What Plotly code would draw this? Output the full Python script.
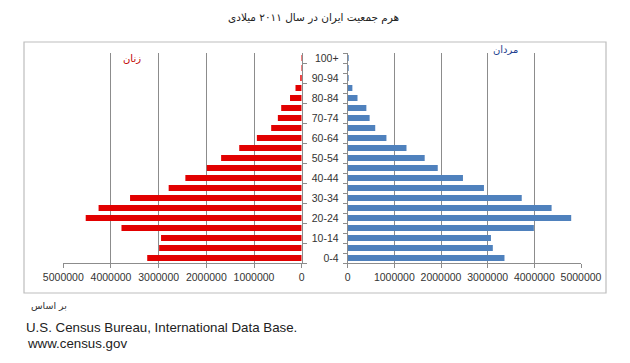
import plotly.graph_objects as go

PAGE_W, PAGE_H = 630, 363
OFF = 8  # default page body margin
W, H = PAGE_W - OFF, PAGE_H - OFF

age_groups = ["0-4", "5-9", "10-14", "15-19", "20-24", "25-29", "30-34", "35-39",
              "40-44", "45-49", "50-54", "55-59", "60-64", "65-69", "70-74",
              "75-79", "80-84", "85-89", "90-94", "95-99", "100+"]
tick_labels = [a if i % 2 == 0 else "" for i, a in enumerate(age_groups)]

women = [3240000, 2990000, 2950000, 3780000, 4530000, 4260000, 3600000, 2790000,
         2440000, 1990000, 1690000, 1310000, 940000, 640000, 500000,
         430000, 245000, 130000, 30000, 5000, 1000]
men = [3360000, 3110000, 3070000, 3990000, 4790000, 4370000, 3730000, 2920000,
       2470000, 1930000, 1650000, 1260000, 830000, 590000, 470000,
       400000, 210000, 100000, 12000, 2000, 500]

x_ticks = [0, 1000000, 2000000, 3000000, 4000000, 5000000]


def px(x):
    return (x - OFF) / W


def py(y):
    return 1 - (y - OFF) / H


fig = go.Figure()
fig.add_trace(go.Bar(y=age_groups, x=women, orientation="h", xaxis="x", yaxis="y",
                     marker=dict(color="#E20000", line=dict(width=0)), name="زنان"))
fig.add_trace(go.Bar(y=age_groups, x=men, orientation="h", xaxis="x2", yaxis="y2",
                     marker=dict(color="#4F81BD", line=dict(width=0)), name="مردان"))

axis_font = dict(family="Liberation Sans, Arial, sans-serif", size=10.5, color="#333")
ydom = [py(263), py(53)]

common_x = dict(showgrid=True, gridcolor="#8c8c8c", gridwidth=1, showline=True,
                linecolor="#8c8c8c", ticks="outside", ticklen=4, tickcolor="#8c8c8c",
                tickvals=x_ticks, ticktext=[str(v) for v in x_ticks], tickfont=axis_font,
                zeroline=False, fixedrange=True, automargin=False)

common_y = dict(domain=ydom, type="category", categoryorder="array", categoryarray=age_groups,
                range=[-0.5, 20.5], showline=True, linecolor="#8c8c8c",
                ticks="outside", ticklen=4, tickcolor="#8c8c8c", tickson="boundaries",
                showgrid=False, zeroline=False, fixedrange=True, automargin=False)

fig.update_layout(
    width=W, height=H,
    margin=dict(l=0, r=0, t=0, b=0, autoexpand=False),
    paper_bgcolor="white", plot_bgcolor="rgba(0,0,0,0)",
    showlegend=False,
    bargap=0.42,
    xaxis=dict(domain=[px(63.3), px(301.7)], range=[5000000, 0], anchor="y", **common_x),
    xaxis2=dict(domain=[px(347.7), px(581)], range=[0, 5000000], anchor="y2", **common_x),
    yaxis=dict(anchor="x", side="right", showticklabels=False, **common_y),
    yaxis2=dict(anchor="x2", side="left", tickmode="array", tickvals=age_groups,
                ticktext=tick_labels, tickfont=axis_font, ticklabelstandoff=6, **common_y),
)

fig.add_shape(type="rect", xref="paper", yref="paper",
              x0=px(24), x1=px(606), y0=py(293), y1=py(42),
              line=dict(color="#bdbdbd", width=1.2), fillcolor="rgba(0,0,0,0)", layer="above")

ar_font = "DejaVu Sans, Noto Sans, sans-serif"
fig.add_annotation(text="هرم جمعیت ایران در سال ۲۰۱۱ میلادی", xref="paper", yref="paper",
                   x=px(313), y=py(18), showarrow=False, xanchor="center", yanchor="middle",
                   font=dict(family=ar_font, size=10.5, color="#222"))
fig.add_annotation(text="زنان", xref="paper", yref="paper",
                   x=px(132), y=py(58), showarrow=False, xanchor="center", yanchor="middle",
                   font=dict(family=ar_font, size=10, color="#C00000"))
fig.add_annotation(text="مردان", xref="paper", yref="paper",
                   x=px(505), y=py(50), showarrow=False, xanchor="center", yanchor="middle",
                   font=dict(family=ar_font, size=10, color="#1F3F8F"))
fig.add_annotation(text="بر اساس", xref="paper", yref="paper",
                   x=px(29), y=py(305), showarrow=False, xanchor="left", yanchor="middle",
                   font=dict(family=ar_font, size=9.5, color="#333"))
fig.add_annotation(text="U.S. Census Bureau, International Data Base.", xref="paper", yref="paper",
                   x=px(24), y=py(327), showarrow=False, xanchor="left", yanchor="middle",
                   font=dict(family="Liberation Sans, Arial, sans-serif", size=13.3, color="#222"))
fig.add_annotation(text="www.census.gov", xref="paper", yref="paper",
                   x=px(25), y=py(343), showarrow=False, xanchor="left", yanchor="middle",
                   font=dict(family="Liberation Sans, Arial, sans-serif", size=13.3, color="#222"))

fig.write_html("out.html")
